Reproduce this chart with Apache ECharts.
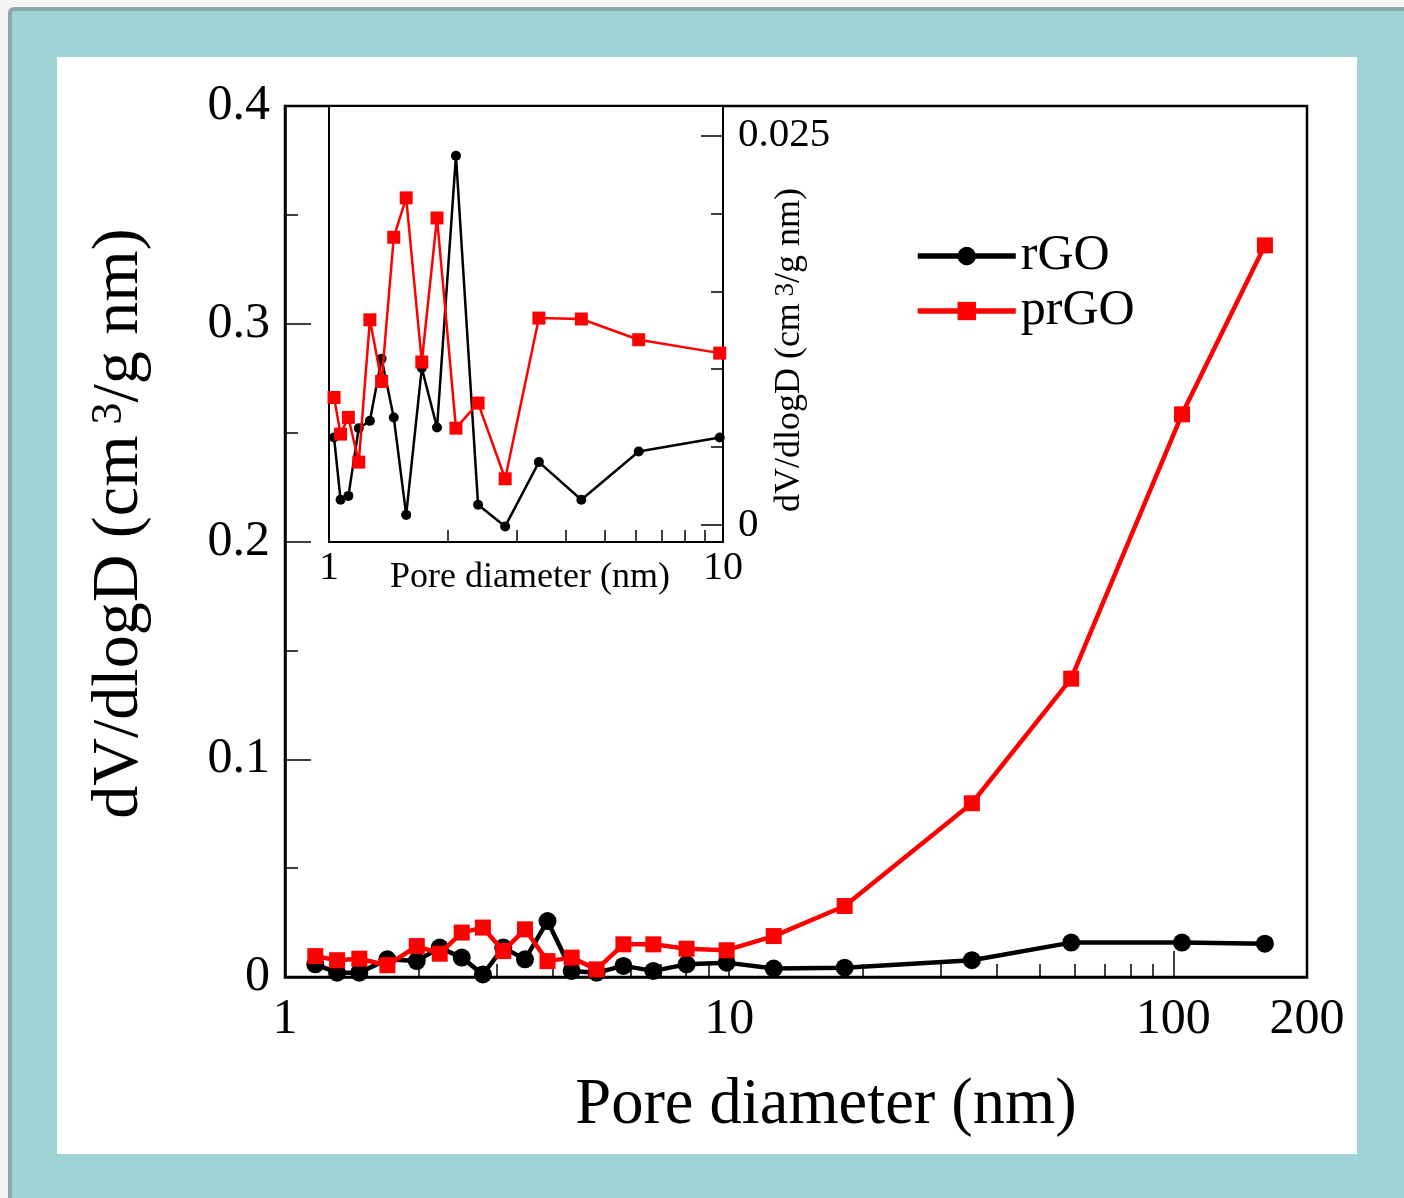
<!DOCTYPE html>
<html>
<head>
<meta charset="utf-8">
<script src="https://cdn.jsdelivr.net/npm/echarts@6/dist/echarts.min.js"></script>
<style>
html, body { margin: 0; padding: 0; width: 1404px; height: 1198px; overflow: hidden; background: #f4f4f4; }
#frame { position: absolute; left: 8px; top: 7px; width: 1420px; height: 1220px; background: #a0d4d7;
  border-left: 4px solid #8ca8a8; border-top: 4px solid #8ca8a8; border-top-left-radius: 6px; box-sizing: border-box; }
#panel { position: absolute; left: 57px; top: 57px; width: 1300px; height: 1097px; background: #fff; }
#chart { position: absolute; left: 0; top: 0; width: 1404px; height: 1198px; }
</style>
</head>
<body>
<div id="frame"></div>
<div id="panel"></div>
<div id="chart"></div>
<script>
// Pore size distribution (main plot, 1-200 nm)
const poreMain = [1.17, 1.31, 1.47, 1.70, 1.98, 2.23, 2.50, 2.79, 3.10, 3.47, 3.90, 4.42, 5.03, 5.78, 6.75, 8.02, 9.87, 12.6, 18.2, 35.2, 58.9, 104.6, 160.8];
const rgoMain = [0.0058, 0.0020, 0.0020, 0.0081, 0.0073, 0.0135, 0.0089, 0.0012, 0.0135, 0.0081, 0.0257, 0.0028, 0.0020, 0.0051, 0.0028, 0.0058, 0.0066, 0.0039, 0.0043, 0.0077, 0.0158, 0.0158, 0.0153];
const prgoMain = [0.0096, 0.0077, 0.0084, 0.0054, 0.0142, 0.0107, 0.0204, 0.0227, 0.0119, 0.0219, 0.0073, 0.0089, 0.0035, 0.0150, 0.0150, 0.0130, 0.0123, 0.0188, 0.0326, 0.0798, 0.1370, 0.2584, 0.3360];

// Micro/mesopore detail (inset, 1-10 nm)
const poreInset = [1.03, 1.07, 1.12, 1.19, 1.27, 1.36, 1.46, 1.57, 1.72, 1.88, 2.10, 2.39, 2.80, 3.41, 4.37, 6.11, 9.81];
const rgoInset = [0.00561, 0.00161, 0.00186, 0.00621, 0.00668, 0.01067, 0.00690, 0.00064, 0.01007, 0.00625, 0.02371, 0.00129, -0.00010, 0.00403, 0.00161, 0.00471, 0.00561];
const prgoInset = [0.00818, 0.00583, 0.00690, 0.00403, 0.01317, 0.00921, 0.01847, 0.02100, 0.01046, 0.01971, 0.00621, 0.00782, 0.00296, 0.01328, 0.01322, 0.01189, 0.01103];

// Tick positions
const mainXLabels = [1, 10, 100, 200];
const mainXMajor = [10, 100];
const mainXMinor = [2, 3, 4, 5, 6, 7, 8, 9, 20, 30, 40, 50, 60, 70, 80, 90];
const insetXLabels = [1, 10];
const insetXMinor = [2, 3, 4, 5, 6, 7, 8, 9];
const insetYLabels = [0, 0.025];
const insetYMinor = [0.005, 0.01, 0.015, 0.02];

const serif = "'Liberation Serif', 'Times New Roman', serif";
const black = '#000000';
const red = '#ff0000';

const pairs = (xs, ys) => xs.map((x, i) => [x, ys[i]]);

const chart = echarts.init(document.getElementById('chart'), null, { renderer: 'canvas' });

chart.setOption({
  animation: false,
  backgroundColor: 'transparent',
  grid: [
    { left: 285, top: 106, width: 1022, height: 871, show: true, borderColor: black, borderWidth: 2.5, backgroundColor: 'transparent', containLabel: false },
    { left: 329, top: 106, width: 394, height: 436, show: true, borderColor: black, borderWidth: 2, backgroundColor: '#ffffff', containLabel: false }
  ],
  legend: {
    data: ['rGO', 'prGO'],
    orient: 'vertical',
    left: 910,
    top: 226,
    itemWidth: 98,
    itemHeight: 23,
    itemGap: 5,
    lineStyle: { width: 5.5 },
    textStyle: { fontFamily: serif, fontSize: 50, color: black, lineHeight: 50 }
  },
  xAxis: [
    {
      type: 'log', logBase: 10, gridIndex: 0, min: 1, max: 200, position: 'bottom',
      axisLine: { onZero: false, lineStyle: { color: black, width: 2.5 } },
      axisTick: { inside: true, length: 26, customValues: mainXMajor, lineStyle: { color: black, width: 1.5 } },
      axisLabel: { customValues: mainXLabels, fontFamily: serif, fontSize: 50, color: black, margin: 18,
        formatter: v => String(Math.round(v)) },
      splitLine: { show: false }, minorTick: { show: false }, minorSplitLine: { show: false },
      name: 'Pore diameter (nm)', nameLocation: 'middle', nameGap: 97, nameMoveOverlap: false,
      nameTextStyle: { fontFamily: serif, fontSize: 64.5, color: black, padding: [0, 0, 0, 60] }
    },
    {
      type: 'log', logBase: 10, gridIndex: 0, min: 1, max: 200, position: 'bottom',
      axisLine: { show: false, onZero: false },
      axisTick: { inside: true, length: 13, customValues: mainXMinor, lineStyle: { color: black, width: 1.5 } },
      axisLabel: { show: false },
      splitLine: { show: false }
    },
    {
      type: 'log', logBase: 10, gridIndex: 1, min: 1, max: 10, position: 'bottom',
      axisLine: { onZero: false, lineStyle: { color: black, width: 2 } },
      axisTick: { inside: true, length: 12, customValues: insetXMinor, lineStyle: { color: black, width: 1.5 } },
      axisLabel: { customValues: insetXLabels, fontFamily: serif, fontSize: 40, color: black, margin: 6,
        formatter: v => String(Math.round(v)) },
      splitLine: { show: false },
      name: 'Pore diameter (nm)', nameLocation: 'middle', nameGap: 18, nameMoveOverlap: false,
      nameTextStyle: { fontFamily: serif, fontSize: 36, color: black, padding: [0, 0, 0, 8] }
    }
  ],
  yAxis: [
    {
      type: 'value', gridIndex: 0, min: 0, max: 0.4, interval: 0.1, position: 'left',
      axisLine: { onZero: false, lineStyle: { color: black, width: 2.5 } },
      axisTick: { inside: true, length: 26, lineStyle: { color: black, width: 1.5 } },
      minorTick: { show: true, splitNumber: 2, length: 13, lineStyle: { color: black, width: 1.5 } },
      axisLabel: { fontFamily: serif, fontSize: 50, color: black, margin: 15,
        formatter: v => (v === 0 ? '0' : v.toFixed(1)) },
      splitLine: { show: false }, minorSplitLine: { show: false },
      name: '{t|dV/dlogD (cm}{s| 3}{t|/g nm)}', nameLocation: 'middle', nameGap: 132, nameRotate: 90,
      nameMoveOverlap: false,
      nameTextStyle: {
        fontFamily: serif, fontSize: 66, color: black, padding: [0, 0, 0, 36],
        rich: {
          t: { fontFamily: serif, fontSize: 66, color: black },
          s: { fontFamily: serif, fontSize: 44, color: black, verticalAlign: 'top' }
        }
      }
    },
    {
      type: 'value', gridIndex: 1, min: -0.0011, max: 0.0269, position: 'right',
      axisLine: { onZero: false, lineStyle: { color: black, width: 2 } },
      axisTick: { inside: true, length: 22, customValues: insetYLabels, lineStyle: { color: black, width: 1.5 } },
      axisLabel: { customValues: insetYLabels, fontFamily: serif, fontSize: 41, color: black, margin: 15,
        formatter: v => (v === 0 ? '0' : String(v)) },
      splitLine: { show: false },
      name: '{t|dV/dlogD (cm}{s| 3}{t|/g nm)}', nameLocation: 'middle', nameGap: 49, nameRotate: 90,
      nameMoveOverlap: false,
      nameTextStyle: {
        fontFamily: serif, fontSize: 36, color: black, padding: [0, 52, 0, 0],
        rich: {
          t: { fontFamily: serif, fontSize: 36, color: black },
          s: { fontFamily: serif, fontSize: 27, color: black, verticalAlign: 'top' }
        }
      }
    },
    {
      type: 'value', gridIndex: 1, min: -0.0011, max: 0.0269, position: 'right',
      axisLine: { show: false, onZero: false },
      axisTick: { inside: true, length: 12, customValues: insetYMinor, lineStyle: { color: black, width: 1.5 } },
      axisLabel: { show: false },
      splitLine: { show: false }
    }
  ],
  series: [
    {
      name: 'rGO', type: 'line', xAxisIndex: 0, yAxisIndex: 0, data: pairs(poreMain, rgoMain),
      symbol: 'circle', symbolSize: 18, showAllSymbol: true, z: 3,
      lineStyle: { color: black, width: 4.5 }, itemStyle: { color: black }
    },
    {
      name: 'prGO', type: 'line', xAxisIndex: 0, yAxisIndex: 0, data: pairs(poreMain, prgoMain),
      symbol: 'rect', symbolSize: 16, showAllSymbol: true, z: 4,
      lineStyle: { color: red, width: 4.5 }, itemStyle: { color: red }
    },
    {
      name: 'rGO', type: 'line', xAxisIndex: 2, yAxisIndex: 1, data: pairs(poreInset, rgoInset),
      symbol: 'circle', symbolSize: 10, showAllSymbol: true, z: 5,
      lineStyle: { color: black, width: 2.5 }, itemStyle: { color: black }
    },
    {
      name: 'prGO', type: 'line', xAxisIndex: 2, yAxisIndex: 1, data: pairs(poreInset, prgoInset),
      symbol: 'rect', symbolSize: 13, showAllSymbol: true, z: 6,
      lineStyle: { color: red, width: 2.5 }, itemStyle: { color: red }
    }
  ]
});
</script>
</body>
</html>
